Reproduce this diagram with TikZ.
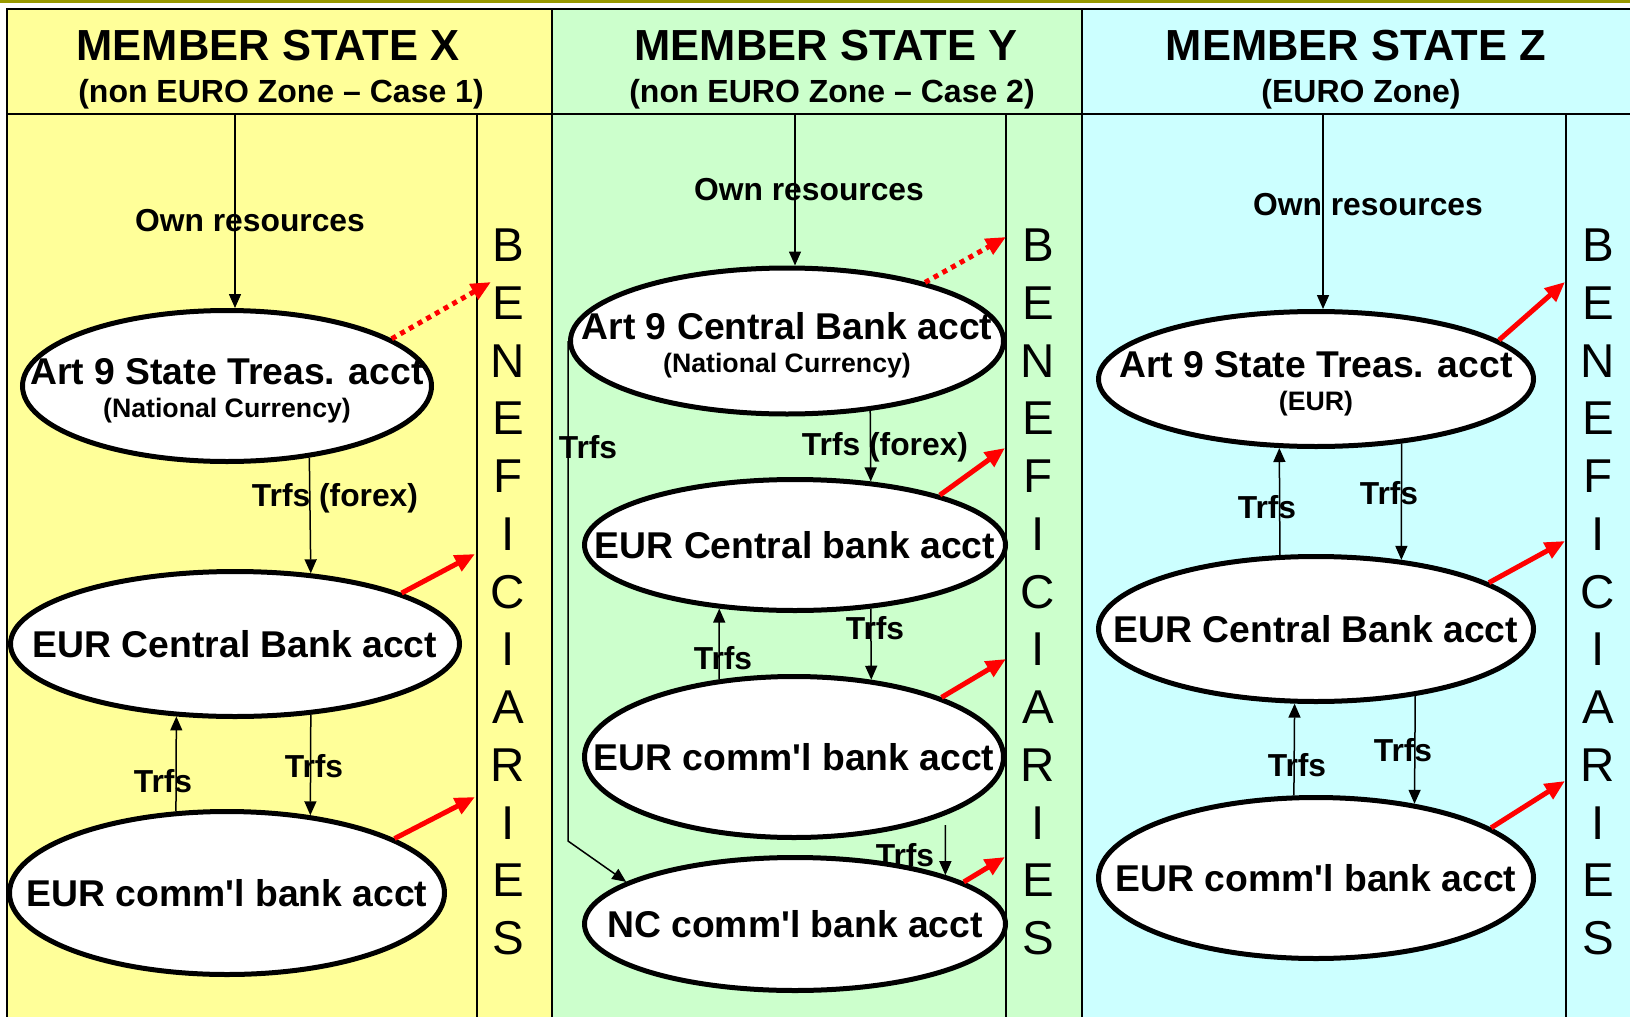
\documentclass[tikz,border=0pt]{standalone}
\usepackage{fontspec}
\setmainfont{Liberation Sans}
\usetikzlibrary{shapes.geometric,arrows.meta}
\definecolor{xzone}{HTML}{FFFF99}
\definecolor{yzone}{HTML}{CCFFCC}
\definecolor{zzone}{HTML}{CCFFFF}
\definecolor{topbar}{HTML}{999900}
\begin{document}
\begin{tikzpicture}[x=1pt,y=-1pt,
            acct/.style 2 args={ellipse, draw, line width=5pt, fill=white, inner sep=0pt, minimum width=#1, minimum height=#2},
            acctfont/.style={font=\fontsize{37.3}{40}\selectfont\bfseries},
            curfont/.style={font=\fontsize{26.7}{28}\selectfont\bfseries},
            lblfont/.style={font=\fontsize{31.8}{34}\selectfont\bfseries, inner sep=0pt},
            titlefont/.style={anchor=base, inner sep=0pt, font=\fontsize{43.5}{46}\selectfont\bfseries},
            subfont/.style={anchor=base, inner sep=0pt, font=\fontsize{32}{34}\selectfont\bfseries},
            benef/.style={align=center, inner sep=0pt, font=\fontsize{47.5}{57.75}\selectfont},
            flow/.style={-{Triangle[length=14pt,width=12pt]}, line width=1.5pt},
            pay/.style={-{Triangle[length=20pt,width=17pt]}, line width=5pt, red},
            frame/.style={line width=2pt}]
            \useasboundingbox (0,0) rectangle (1630,1017);
            \fill[topbar] (0,0) rectangle (1630,3);
            \fill[xzone] (7,9) rectangle (552,1017);
            \fill[yzone] (552,9) rectangle (1082,1017);
            \fill[zzone] (1082,9) rectangle (1630,1017);
            \draw[frame] (7,1017) -- (7,9) -- (1630,9);
            \draw[frame] (7,114) -- (1630,114);
            \draw[frame] (552,9) -- (552,1017);
            \draw[frame] (1082,9) -- (1082,1017);
            \draw[line width=1.5pt] (477,114) -- (477,1017);
            \draw[line width=1.5pt] (1006,114) -- (1006,1017);
            \draw[line width=1.5pt] (1566,114) -- (1566,1017);

            \node[titlefont] (xh) at (268,60) {MEMBER STATE X};
            \node[subfont] (xs) at (281,102) {(non EURO Zone -- Case 1)};
            \node[titlefont] (yh) at (826,60) {MEMBER STATE Y};
            \node[subfont] (ys) at (832,102) {(non EURO Zone -- Case 2)};
            \node[titlefont] (zh) at (1356,60) {MEMBER STATE Z};
            \node[subfont] (zs) at (1361,102) {(EURO Zone)};

            \node[benef] (xben) at (508,592) {B\\E\\N\\E\\F\\I\\C\\I\\A\\R\\I\\E\\S};
            \node[benef] (yben) at (1038,592) {B\\E\\N\\E\\F\\I\\C\\I\\A\\R\\I\\E\\S};
            \node[benef] (zben) at (1598,592) {B\\E\\N\\E\\F\\I\\C\\I\\A\\R\\I\\E\\S};

            \node[acct={409pt}{151pt}, label={[acctfont,yshift=14.5pt]center:Art 9 State Treas. acct}, label={[curfont,yshift=-25pt]center:(National Currency)}] (xa) at (227,386) {};
            \node[acct={449pt}{145pt}, label={[acctfont]center:EUR Central Bank acct}] (xb) at (235,644) {};
            \node[acct={435pt}{163pt}, label={[acctfont]center:EUR comm\textquotesingle l bank acct}] (xc) at (227,893) {};

            \node[acct={433pt}{146pt}, label={[acctfont,yshift=14.5pt]center:Art 9 Central Bank acct}, label={[curfont,yshift=-25pt]center:(National Currency)}] (ya) at (787,341) {};
            \node[acct={421pt}{131pt}, label={[acctfont]center:EUR Central bank acct}] (yb) at (795,545) {};
            \node[acct={419pt}{161pt}, label={[acctfont]center:EUR comm\textquotesingle l bank acct}] (yc) at (794,757) {};
            \node[acct={421pt}{133pt}, label={[acctfont]center:NC comm\textquotesingle l bank acct}] (yd) at (795,924) {};

            \node[acct={435pt}{135pt}, label={[acctfont,yshift=14.5pt]center:Art 9 State Treas. acct}, label={[curfont,yshift=-25pt]center:(EUR)}] (za) at (1316,379) {};
            \node[acct={435pt}{145pt}, label={[acctfont]center:EUR Central Bank acct}] (zb) at (1316,629) {};
            \node[acct={435pt}{161pt}, label={[acctfont]center:EUR comm\textquotesingle l bank acct}] (zc) at (1316,878) {};

            \node[lblfont] (xown) at (250,221) {Own resources};
            \node[lblfont] (yown) at (809,190) {Own resources};
            \node[lblfont] (zown) at (1368,205) {Own resources};
            \node[lblfont] (xt1) at (335,498) {Trfs (forex)};
            \node[lblfont] (xt2) at (163,781) {Trfs};
            \node[lblfont] (xt3) at (314,766) {Trfs};
            \node[lblfont] (yt0) at (588,447) {Trfs};
            \node[lblfont] (yt1) at (885,447) {Trfs (forex)};
            \node[lblfont] (yt2) at (723,658) {Trfs};
            \node[lblfont] (yt3) at (875,628) {Trfs};
            \node[lblfont] (yt4) at (905,855) {Trfs};
            \node[lblfont] (zt1) at (1267,507) {Trfs};
            \node[lblfont] (zt2) at (1389,493) {Trfs};
            \node[lblfont] (zt3) at (1297,765) {Trfs};
            \node[lblfont] (zt4) at (1403,750) {Trfs};

            \coordinate (xo) at (235,114);
            \coordinate (yo) at (795,114);
            \coordinate (zo) at (1323,114);
            \coordinate (px1) at (491,282);
            \coordinate (px2) at (475,554);
            \coordinate (px3) at (475,797);
            \coordinate (py1) at (1006,237);
            \coordinate (py2) at (1005,448);
            \coordinate (py3) at (1006,659);
            \coordinate (py4) at (1005,857);
            \coordinate (pz1) at (1565,282);
            \coordinate (pz2) at (1565,541);
            \coordinate (pz3) at (1565,781);

            \draw[flow] (xo) -- (xo |- xa.north);
            \draw[flow] (xa.-41) -- (xb.43.4);
            \draw[flow] (xc.122.5) -- (xb.-129.7);
            \draw[flow] (xb.-43.4) -- (xc.43.1);
            \draw[pay, dash pattern=on 5pt off 5pt] (xa.16) -- (px1);
            \draw[pay] (xb.17) -- (px2);
            \draw[pay] (xc.18.5) -- (px3);

            \draw[flow] (yo) -- (yo |- ya.north);
            \draw[flow] (ya.-40) -- (yb.40.3);
            \draw[flow] (yc.134) -- (yb.-140);
            \draw[flow] (yb.-40.3) -- (yc.45.6);
            \draw[flow] ([yshift=-10pt]yc.-21) -- (yd.18);
            \draw[flow] (ya.west) -- ++(0,500) -- (yd.166);
            \draw[pay, dash pattern=on 5pt off 5pt] (ya.23) -- (py1);
            \draw[pay] (yb.19) -- (py2);
            \draw[pay] (yc.22) -- (py3);
            \draw[pay] (yd.14) -- (py4);

            \draw[flow] (zo) -- (zo |- za.north);
            \draw[flow] (zb.116.6) -- (za.-118.2);
            \draw[flow] (za.-37.6) -- (zb.39.5);
            \draw[flow] (zc.105) -- (zb.-106.4);
            \draw[flow] (zb.-34.4) -- (zc.37.2);
            \draw[pay] (za.12.6) -- (pz1);
            \draw[pay] (zb.15) -- (pz2);
            \draw[pay] (zc.16) -- (pz3);
\end{tikzpicture}
\end{document}
